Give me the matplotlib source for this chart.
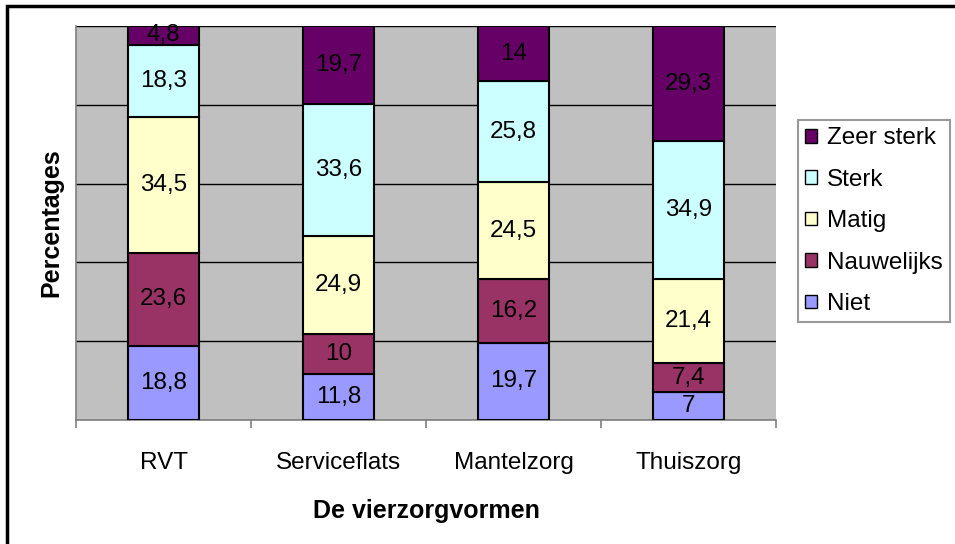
import matplotlib
matplotlib.use("Agg")
import numpy as np
from matplotlib import pyplot as plt
from matplotlib.patches import Rectangle

plt.rcParams['font.family'] = ['Liberation Sans', 'DejaVu Sans']

vormen = ["RVT", "Serviceflats", "Mantelzorg", "Thuiszorg"]
niet = [18.8, 11.8, 19.7, 7]
nauwelijks = [23.6, 10, 16.2, 7.4]
matig = [34.5, 24.9, 24.5, 21.4]
sterk = [18.3, 33.6, 25.8, 34.9]
zeer_sterk = [4.8, 19.7, 14, 29.3]

series = [("Niet", niet, "#9999FF"),
          ("Nauwelijks", nauwelijks, "#993366"),
          ("Matig", matig, "#FFFFCC"),
          ("Sterk", sterk, "#CCFFFF"),
          ("Zeer sterk", zeer_sterk, "#660066")]

totals = np.sum([s[1] for s in series], axis=0)

fig = plt.figure(figsize=(9.55, 5.44), dpi=100)
W, H = 955, 544
ax = fig.add_axes([76 / W, 1 - 420 / H, 700 / W, 394 / H])
ax.set_facecolor("#C0C0C0")

x = np.arange(len(vormen))
bottom = np.zeros(len(vormen))
handles = []
for name, vals, col in series:
    pct = np.array(vals) / totals * 100
    b = ax.bar(x, pct, 0.41, bottom=bottom, color=col, edgecolor="black",
               linewidth=1.5, label=name, zorder=3)
    handles.append(b)
    for xi, bi, pi, v in zip(x, bottom, pct, vals):
        ax.text(xi, bi + pi / 2, str(v).replace(".", ","), ha="center", va="center",
                fontsize=17.5, zorder=4)
    bottom += pct

ax.set_xlim(-0.5, 3.5)
ax.set_ylim(0, 100)
ax.set_yticks([0, 20, 40, 60, 80, 100])
ax.yaxis.grid(True, color="black", linewidth=1)
ax.set_axisbelow(True)
ax.tick_params(axis="y", left=False, labelleft=False)
ax.set_xticks(x)
ax.set_xticklabels(vormen, fontsize=17.5)
ax.set_xticks([-0.5, 0.5, 1.5, 2.5, 3.5], minor=True)
ax.tick_params(axis="x", which="major", length=0, pad=23)
ax.tick_params(axis="x", which="minor", length=6, color="#808080", width=1.2)
for side in ["top", "right"]:
    ax.spines[side].set_visible(False)
ax.spines["left"].set_color("#808080")
ax.spines["bottom"].set_color("#808080")
ax.spines["left"].set_linewidth(1.2)
ax.spines["bottom"].set_linewidth(1.2)

ax.set_xlabel("De vierzorgvormen", fontsize=18, fontweight="bold", labelpad=18)
ax.set_ylabel("Percentages", fontsize=18, fontweight="bold", labelpad=9)

leg = fig.legend(handles[::-1], [s[0] for s in series][::-1],
                 loc="upper left", bbox_to_anchor=(798 / W, 1 - 120 / H),
                 fontsize=17.5, frameon=True, fancybox=False, handlelength=0.5,
                 handleheight=0.5, handletextpad=0.4, labelspacing=0.8,
                 borderpad=0.3, borderaxespad=0)
leg.get_frame().set_edgecolor("#808080")
leg.get_frame().set_linewidth(1.5)
for h in leg.legend_handles:
    h.set_linewidth(1)

fig.patches.append(Rectangle((7 / W, -0.1), 1.1, 1 - 6 / H + 0.1, transform=fig.transFigure,
                             fill=False, edgecolor="black", linewidth=2.5))

fig.savefig("out.png", dpi=100)
